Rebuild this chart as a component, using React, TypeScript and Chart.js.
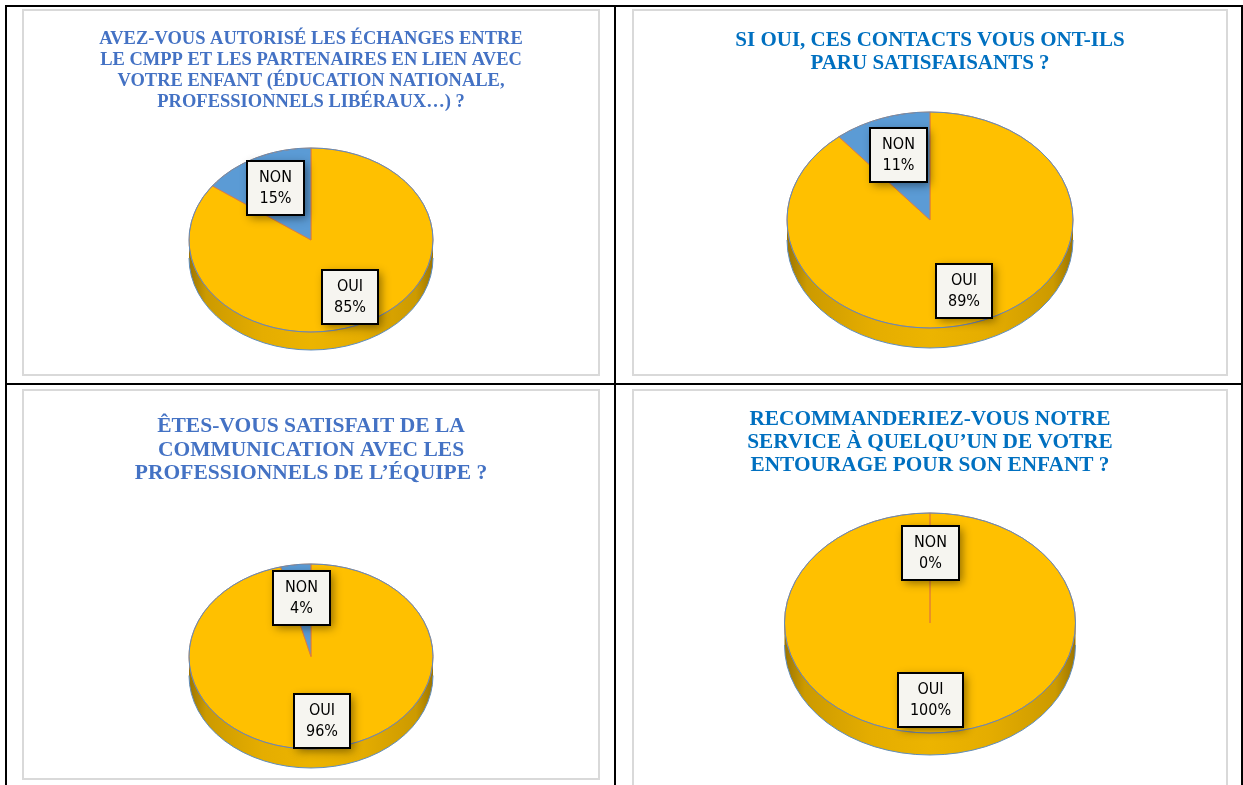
import React, { useEffect, useRef } from 'react';
import { Chart, registerables } from 'chart.js';

Chart.register(...registerables);

// ---------- DATA ----------
const categories = ['OUI', 'NON'];

const q1Values = [85, 15];
const q2Values = [89, 11];
const q3Values = [96, 4];
const q4Values = [100, 0];

const q1Title = [
  'AVEZ-VOUS AUTORISÉ LES ÉCHANGES ENTRE',
  'LE CMPP ET LES PARTENAIRES EN LIEN AVEC',
  'VOTRE ENFANT (ÉDUCATION NATIONALE,',
  'PROFESSIONNELS LIBÉRAUX…) ?',
];
const q2Title = ['SI OUI, CES CONTACTS VOUS ONT-ILS', 'PARU SATISFAISANTS ?'];
const q3Title = [
  'ÊTES-VOUS SATISFAIT DE LA',
  'COMMUNICATION AVEC LES',
  'PROFESSIONNELS DE L’ÉQUIPE ?',
];
const q4Title = [
  'RECOMMANDERIEZ-VOUS NOTRE',
  'SERVICE À QUELQU’UN DE VOTRE',
  'ENTOURAGE POUR SON ENFANT ?',
];

// ---------- STYLE ----------
const sliceColors = ['#FFC000', '#5B9BD5'];
const sliceBorder = '#E07B39';
const outlineColor = '#5E8DBF';
const titleFamily = "'Liberation Serif', 'Times New Roman', serif";
const labelFamily = "'Liberation Sans Narrow', 'Arial Narrow', 'DejaVu Sans Condensed', 'Liberation Sans', sans-serif";

type Spec = {
  title: string[];
  values: number[];
  titleColor: string;
  titleSize: number;
  titleLH: number;
  titlePadTop: number;
  box: { left: number; top: number; width: number; height: number };
  pie: { cy: number; rx: number; ry: number; depth: number };
};

const specs: Spec[] = [
  {
    title: q1Title, values: q1Values, titleColor: '#4472C4', titleSize: 18.5, titleLH: 1.13, titlePadTop: 18,
    box: { left: 22, top: 9, width: 578, height: 367 },
    pie: { cy: 229, rx: 122, ry: 92, depth: 18 },
  },
  {
    title: q2Title, values: q2Values, titleColor: '#0070C0', titleSize: 21, titleLH: 1.07, titlePadTop: 18.5,
    box: { left: 632, top: 9, width: 596, height: 367 },
    pie: { cy: 209, rx: 143, ry: 108, depth: 20 },
  },
  {
    title: q3Title, values: q3Values, titleColor: '#4472C4', titleSize: 21.5, titleLH: 1.09, titlePadTop: 24,
    box: { left: 22, top: 389, width: 578, height: 391 },
    pie: { cy: 265.5, rx: 122, ry: 92.5, depth: 19 },
  },
  {
    title: q4Title, values: q4Values, titleColor: '#0070C0', titleSize: 21.3, titleLH: 1.08, titlePadTop: 17,
    box: { left: 632, top: 389, width: 596, height: 410 },
    pie: { cy: 232, rx: 145.5, ry: 110, depth: 22 },
  },
];

function makePie3d(spec: Spec) {
  const { cy, ry, depth } = spec.pie;
  let saved = false;
  return {
    id: 'pie3d',
    beforeDatasetDraw(chart: any, args: any) {
      const meta = chart.getDatasetMeta(args.index);
      const el = meta.data[0];
      if (!el) return;
      const { x, y, outerRadius } = el.getProps(['x', 'y', 'outerRadius'], true);
      const R = outerRadius;
      const k = ry / R;
      const ctx = chart.ctx;
      // side of the 3D disc
      ctx.save();
      const g = ctx.createLinearGradient(x - R, 0, x + R, 0);
      g.addColorStop(0, '#9C7400');
      g.addColorStop(0.07, '#CC9A00');
      g.addColorStop(0.3, '#E5AD00');
      g.addColorStop(0.5, '#ECB400');
      g.addColorStop(0.7, '#E5AD00');
      g.addColorStop(0.93, '#CC9A00');
      g.addColorStop(1, '#9C7400');
      ctx.beginPath();
      ctx.moveTo(x + R, cy);
      ctx.lineTo(x + R, cy + depth);
      ctx.ellipse(x, cy + depth, R, ry, 0, 0, Math.PI, false);
      ctx.lineTo(x - R, cy);
      ctx.closePath();
      ctx.fillStyle = g;
      ctx.fill();
      ctx.beginPath();
      ctx.ellipse(x, cy + depth, R, ry, 0, 0, Math.PI, false);
      ctx.strokeStyle = outlineColor;
      ctx.lineWidth = 1;
      ctx.stroke();
      ctx.restore();
      // flatten the top face into an ellipse
      ctx.save();
      ctx.translate(x, cy);
      ctx.scale(1, k);
      ctx.translate(-x, -y);
      saved = true;
    },
    afterDatasetDraw(chart: any, args: any) {
      const ctx = chart.ctx;
      if (saved) {
        ctx.restore();
        saved = false;
      }
      const el = chart.getDatasetMeta(args.index).data[0];
      if (!el) return;
      const { x, outerRadius } = el.getProps(['x', 'outerRadius'], true);
      ctx.save();
      ctx.beginPath();
      ctx.ellipse(x, cy, outerRadius, ry, 0, 0, Math.PI * 2);
      ctx.strokeStyle = outlineColor;
      ctx.lineWidth = 1;
      ctx.stroke();
      ctx.restore();
    },
    afterDraw(chart: any) {
      const ctx = chart.ctx;
      const meta = chart.getDatasetMeta(0);
      const labels = chart.data.labels as string[];
      const values = chart.data.datasets[0].data as number[];
      meta.data.forEach((arc: any, i: number) => {
        const { x, startAngle, endAngle, outerRadius } = arc.getProps(
          ['x', 'startAngle', 'endAngle', 'outerRadius'],
          true
        );
        const k = ry / outerRadius;
        const mid = (startAngle + endAngle) / 2;
        const r = outerRadius * (i === 0 ? 0.7 : 0.64);
        const lx = x + Math.cos(mid) * r;
        const ly = cy + Math.sin(mid) * r * k;
        const lines = [labels[i], `${values[i]}%`];
        ctx.save();
        ctx.font = `16px ${labelFamily}`;
        const tw = Math.max(...lines.map((l) => ctx.measureText(l).width));
        const bw = Math.round(tw + 24);
        const bh = 54;
        const bx = Math.round(lx - bw / 2);
        const by = Math.round(ly - bh / 2);
        ctx.shadowColor = 'rgba(0,0,0,0.45)';
        ctx.shadowBlur = 9;
        ctx.shadowOffsetX = 3;
        ctx.shadowOffsetY = 3;
        ctx.fillStyle = '#F6F5F0';
        ctx.fillRect(bx, by, bw, bh);
        ctx.shadowColor = 'transparent';
        ctx.lineWidth = 2;
        ctx.strokeStyle = '#000000';
        ctx.strokeRect(bx, by, bw, bh);
        ctx.fillStyle = '#000000';
        ctx.textAlign = 'center';
        ctx.textBaseline = 'middle';
        ctx.fillText(lines[0], bx + bw / 2, by + 17);
        ctx.fillText(lines[1], bx + bw / 2, by + 38);
        ctx.restore();
      });
    },
  };
}

function PieCell({ spec }: { spec: Spec }) {
  const ref = useRef<HTMLCanvasElement | null>(null);
  const w = spec.box.width - 4;
  const h = spec.box.height - 4;
  useEffect(() => {
    if (!ref.current) return;
    const chart = new Chart(ref.current, {
      type: 'pie',
      data: {
        labels: categories,
        datasets: [
          {
            data: spec.values,
            backgroundColor: sliceColors,
            borderColor: sliceBorder,
            borderWidth: 1,
            clip: false as any,
          } as any,
        ],
      },
      options: {
        responsive: false,
        maintainAspectRatio: false,
        animation: false,
        devicePixelRatio: 1,
        events: [],
        radius: spec.pie.rx,
        layout: { padding: 0 },
        plugins: {
          legend: { display: false },
          tooltip: { enabled: false },
          title: {
            display: true,
            text: spec.title,
            color: spec.titleColor,
            font: { family: titleFamily, size: spec.titleSize, weight: 'bold', lineHeight: spec.titleLH },
            padding: { top: spec.titlePadTop, bottom: 10 },
          },
        },
      } as any,
      plugins: [makePie3d(spec) as any],
    });
    return () => chart.destroy();
  }, [spec]);
  return (
    <div
      style={{
        position: 'absolute',
        left: spec.box.left,
        top: spec.box.top,
        width: spec.box.width,
        height: spec.box.height,
        border: '2px solid #D9D9D9',
        boxSizing: 'border-box',
        background: '#FFFFFF',
      }}
    >
      <canvas ref={ref} width={w} height={h} style={{ display: 'block', width: w, height: h }} />
    </div>
  );
}

export default function App() {
  const line = (s: React.CSSProperties) => (
    <div style={{ position: 'absolute', background: '#000000', ...s }} />
  );
  return (
    <div
      style={{
        position: 'absolute',
        left: 0,
        top: 0,
        width: 1243,
        height: 785,
        overflow: 'hidden',
        background: '#FFFFFF',
      }}
    >
      {specs.map((s, i) => (
        <PieCell key={i} spec={s} />
      ))}
      {line({ left: 5, top: 5, width: 1238, height: 2 })}
      {line({ left: 5, top: 5, width: 2, height: 785 })}
      {line({ left: 614, top: 5, width: 2, height: 785 })}
      {line({ left: 1241, top: 5, width: 2, height: 785 })}
      {line({ left: 5, top: 383, width: 1238, height: 2 })}
    </div>
  );
}
